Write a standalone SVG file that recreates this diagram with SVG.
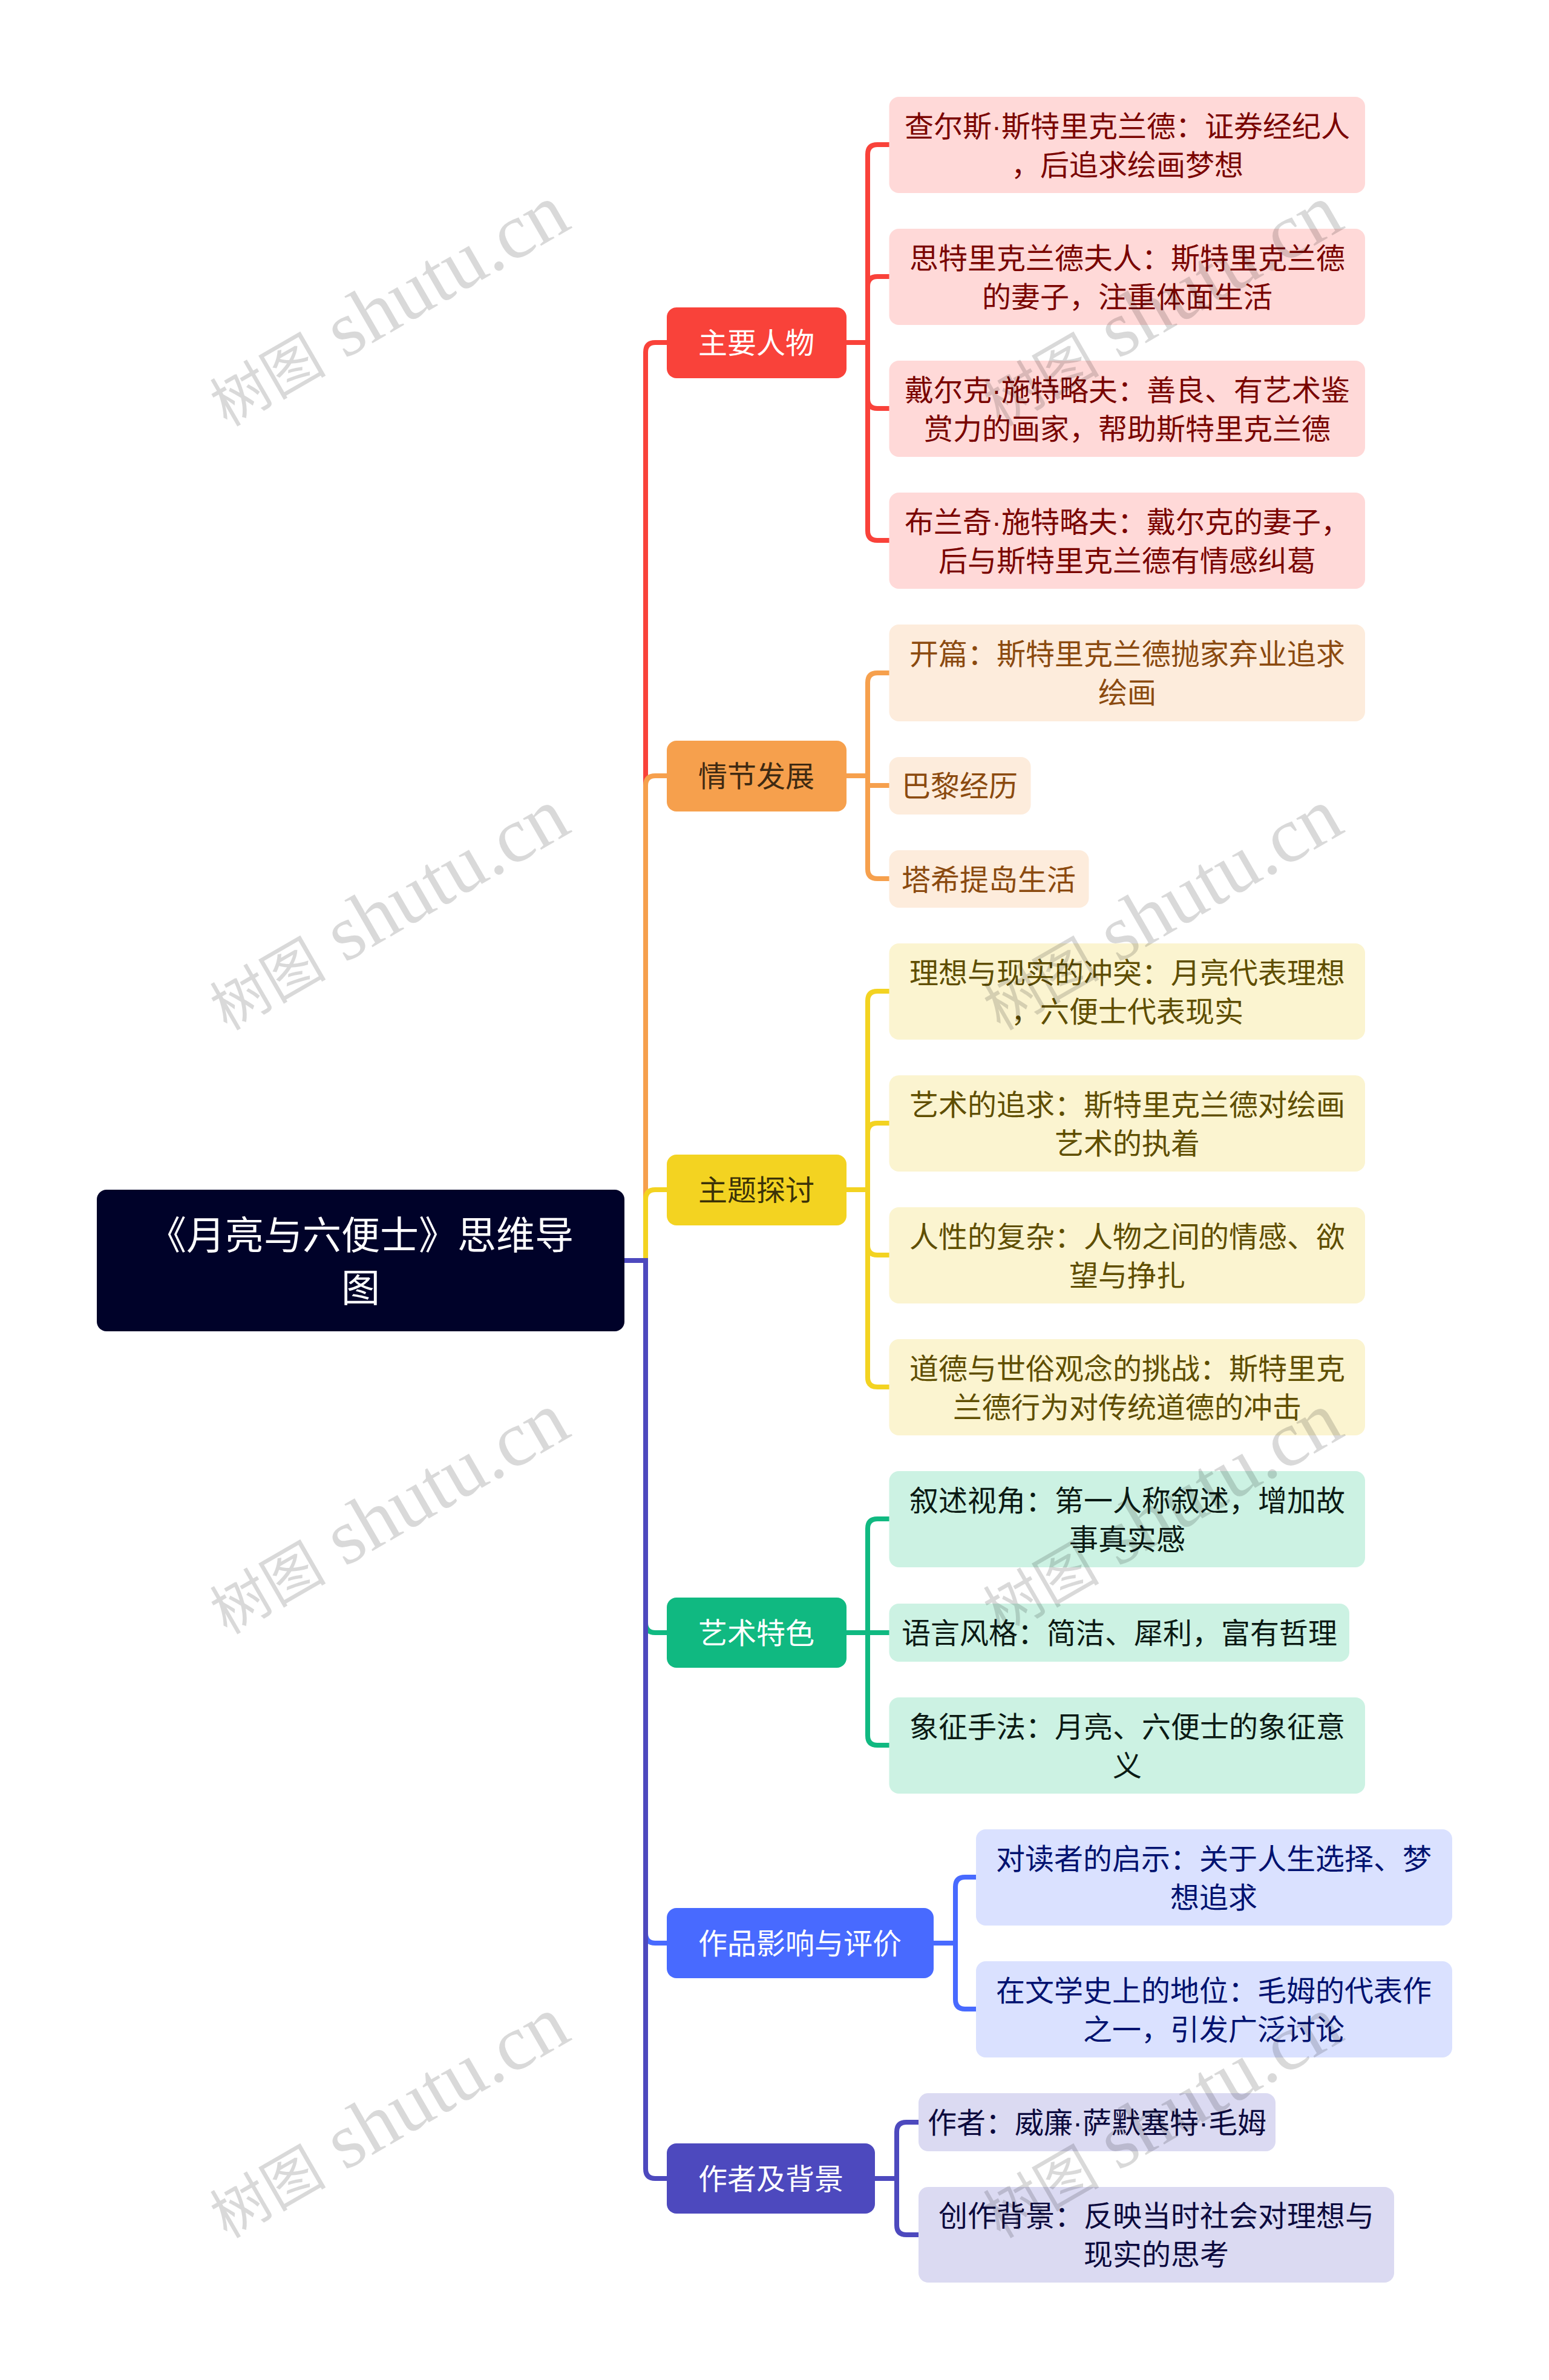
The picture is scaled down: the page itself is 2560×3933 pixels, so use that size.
<svg xmlns="http://www.w3.org/2000/svg" width="2560" height="3933" viewBox="0 0 2560 3933">
<style>
text{font-family:"Liberation Sans","Noto Sans CJK SC",sans-serif;text-anchor:middle}
.c{fill:none;stroke-width:8}
.t{font-size:48px}
.r{font-size:64px;fill:#fff}
.w{fill:#fff}
.red{fill:#ffd9d8}.redt{fill:#7a0400}
.org{fill:#fdecdc}.orgt{fill:#8b4a0f}
.yel{fill:#fbf4d0}.yelt{fill:#5f4e00}
.grn{fill:#ccf2e3}.grnt{fill:#0b1a14}
.blu{fill:#dae1ff}.blut{fill:#001270}
.pur{fill:#dbdaf2}.purt{fill:#0c0a3e}
.wm{fill:#000;fill-opacity:.15;font-size:130px;font-family:"Liberation Serif","Noto Sans CJK SC",serif;text-anchor:start}
.wc{font-size:96px;font-family:"Noto Sans CJK SC",serif}
</style>
<rect width="2560" height="3933" fill="#fff"/>
<g id="connectors">
<g class="c" stroke="#f9423a">
<path d="M1032 2083H1067V582Q1067 566 1083 566H1102"/>
<path d="M1399 566H1434V255Q1434 239 1450 239H1470"/>
<path d="M1399 566H1434V473Q1434 457 1450 457H1470"/>
<path d="M1399 566H1434V659Q1434 675 1450 675H1470"/>
<path d="M1399 566H1434V877Q1434 893 1450 893H1470"/>
</g>
<g class="c" stroke="#f6a04d">
<path d="M1032 2083H1067V1298Q1067 1282 1083 1282H1102"/>
<path d="M1399 1282H1434V1128Q1434 1112 1450 1112H1470"/>
<path d="M1399 1282H1434V1298H1470"/>
<path d="M1399 1282H1434V1436Q1434 1452 1450 1452H1470"/>
</g>
<g class="c" stroke="#f3d321">
<path d="M1032 2083H1067V1982Q1067 1966 1083 1966H1102"/>
<path d="M1399 1966H1434V1654Q1434 1638 1450 1638H1470"/>
<path d="M1399 1966H1434V1872Q1434 1856 1450 1856H1470"/>
<path d="M1399 1966H1434V2058Q1434 2074 1450 2074H1470"/>
<path d="M1399 1966H1434V2276Q1434 2292 1450 2292H1470"/>
</g>
<g class="c" stroke="#10b981">
<path d="M1032 2083H1067V2682Q1067 2698 1083 2698H1102"/>
<path d="M1399 2698H1434V2526Q1434 2510 1450 2510H1470"/>
<path d="M1399 2698H1470"/>
<path d="M1399 2698H1434V2868Q1434 2884 1450 2884H1470"/>
</g>
<g class="c" stroke="#486aff">
<path d="M1032 2083H1067V3195Q1067 3211 1083 3211H1102"/>
<path d="M1543 3211H1579V3118Q1579 3102 1595 3102H1613"/>
<path d="M1543 3211H1579V3304Q1579 3320 1595 3320H1613"/>
</g>
<g class="c" stroke="#4d49be">
<path d="M1032 2083H1067V3584Q1067 3600 1083 3600H1102"/>
<path d="M1446 3600H1482V3523Q1482 3507 1498 3507H1518"/>
<path d="M1446 3600H1482V3677Q1482 3693 1498 3693H1518"/>
</g>
</g>
<g id="root"><rect x="160" y="1966" width="872" height="234" rx="16" fill="#000229"/><text class="r" x="596" y="2064">《月亮与六便士》思维导</text><text class="r" x="596" y="2151">图</text></g>
<g id="n1"><rect x="1102" y="508" width="297" height="117" rx="16" fill="#f9423a"/><text class="t w" x="1250" y="584">主要人物</text></g>
<g id="n11"><rect class="red" x="1469.500" y="160" width="786.500" height="159" rx="16"/><text class="t redt" x="1863" y="226">查尔斯·斯特里克兰德：证券经纪人</text><text class="t redt" x="1863" y="290">，后追求绘画梦想</text></g>
<g id="n12"><rect class="red" x="1469.500" y="378" width="786.500" height="159" rx="16"/><text class="t redt" x="1863" y="444">思特里克兰德夫人：斯特里克兰德</text><text class="t redt" x="1863" y="508">的妻子，注重体面生活</text></g>
<g id="n13"><rect class="red" x="1469.500" y="596" width="786.500" height="159" rx="16"/><text class="t redt" x="1863" y="662">戴尔克·施特略夫：善良、有艺术鉴</text><text class="t redt" x="1863" y="726">赏力的画家，帮助斯特里克兰德</text></g>
<g id="n14"><rect class="red" x="1469.500" y="814" width="786.500" height="159" rx="16"/><text class="t redt" x="1863" y="880">布兰奇·施特略夫：戴尔克的妻子，</text><text class="t redt" x="1863" y="944">后与斯特里克兰德有情感纠葛</text></g>
<g id="n2"><rect x="1102" y="1224" width="297" height="117" rx="16" fill="#f6a04d"/><text class="t" fill="#3f2a12" x="1250" y="1300">情节发展</text></g>
<g id="n21"><rect class="org" x="1469.500" y="1032" width="786.500" height="160" rx="16"/><text class="t orgt" x="1863" y="1098">开篇：斯特里克兰德抛家弃业追求</text><text class="t orgt" x="1863" y="1162">绘画</text></g>
<g id="n22"><rect class="org" x="1469.500" y="1251" width="234" height="95" rx="16"/><text class="t orgt" x="1586" y="1316">巴黎经历</text></g>
<g id="n23"><rect class="org" x="1469.500" y="1405" width="330" height="95" rx="16"/><text class="t orgt" x="1634" y="1471">塔希提岛生活</text></g>
<g id="n3"><rect x="1102" y="1908" width="297" height="117" rx="16" fill="#f3d321"/><text class="t" fill="#3b3208" x="1250" y="1984">主题探讨</text></g>
<g id="n31"><rect class="yel" x="1469.500" y="1559" width="786.500" height="159" rx="16"/><text class="t yelt" x="1863" y="1625">理想与现实的冲突：月亮代表理想</text><text class="t yelt" x="1863" y="1689">，六便士代表现实</text></g>
<g id="n32"><rect class="yel" x="1469.500" y="1777" width="786.500" height="159" rx="16"/><text class="t yelt" x="1863" y="1843">艺术的追求：斯特里克兰德对绘画</text><text class="t yelt" x="1863" y="1907">艺术的执着</text></g>
<g id="n33"><rect class="yel" x="1469.500" y="1995" width="786.500" height="159" rx="16"/><text class="t yelt" x="1863" y="2061">人性的复杂：人物之间的情感、欲</text><text class="t yelt" x="1863" y="2125">望与挣扎</text></g>
<g id="n34"><rect class="yel" x="1469.500" y="2213" width="786.500" height="159" rx="16"/><text class="t yelt" x="1863" y="2279">道德与世俗观念的挑战：斯特里克</text><text class="t yelt" x="1863" y="2343">兰德行为对传统道德的冲击</text></g>
<g id="n4"><rect x="1102" y="2640" width="297" height="116" rx="16" fill="#10b981"/><text class="t w" x="1250" y="2716">艺术特色</text></g>
<g id="n41"><rect class="grn" x="1469.500" y="2431" width="786.500" height="159" rx="16"/><text class="t grnt" x="1863" y="2497">叙述视角：第一人称叙述，增加故</text><text class="t grnt" x="1863" y="2561">事真实感</text></g>
<g id="n42"><rect class="grn" x="1469.500" y="2650" width="760.500" height="96" rx="16"/><text class="t grnt" x="1850" y="2716">语言风格：简洁、犀利，富有哲理</text></g>
<g id="n43"><rect class="grn" x="1469.500" y="2805" width="786.500" height="159" rx="16"/><text class="t grnt" x="1863" y="2871">象征手法：月亮、六便士的象征意</text><text class="t grnt" x="1863" y="2935">义</text></g>
<g id="n5"><rect x="1102" y="3153" width="441" height="116" rx="16" fill="#486aff"/><text class="t w" x="1322" y="3229">作品影响与评价</text></g>
<g id="n51"><rect class="blu" x="1613" y="3023" width="787" height="159" rx="16"/><text class="t blut" x="2006" y="3089">对读者的启示：关于人生选择、梦</text><text class="t blut" x="2006" y="3153">想追求</text></g>
<g id="n52"><rect class="blu" x="1613" y="3241" width="787" height="159" rx="16"/><text class="t blut" x="2006" y="3307">在文学史上的地位：毛姆的代表作</text><text class="t blut" x="2006" y="3371">之一，引发广泛讨论</text></g>
<g id="n6"><rect x="1102" y="3542" width="344" height="116" rx="16" fill="#4d49be"/><text class="t w" x="1274" y="3618">作者及背景</text></g>
<g id="n61"><rect class="pur" x="1518" y="3459" width="590" height="96" rx="16"/><text class="t purt" x="1813" y="3525">作者：威廉·萨默塞特·毛姆</text></g>
<g id="n62"><rect class="pur" x="1518" y="3614" width="786" height="158" rx="16"/><text class="t purt" x="1911" y="3679">创作背景：反映当时社会对理想与</text><text class="t purt" x="1911" y="3743">现实的思考</text></g>
<g id="watermarks">
<text class="wm" transform="translate(375 706) rotate(-30)"><tspan class="wc">树图</tspan> shutu.cn</text>
<text class="wm" transform="translate(1653 706) rotate(-30)"><tspan class="wc">树图</tspan> shutu.cn</text>
<text class="wm" transform="translate(375 1704) rotate(-30)"><tspan class="wc">树图</tspan> shutu.cn</text>
<text class="wm" transform="translate(1653 1704) rotate(-30)"><tspan class="wc">树图</tspan> shutu.cn</text>
<text class="wm" transform="translate(375 2702) rotate(-30)"><tspan class="wc">树图</tspan> shutu.cn</text>
<text class="wm" transform="translate(1653 2702) rotate(-30)"><tspan class="wc">树图</tspan> shutu.cn</text>
<text class="wm" transform="translate(375 3700) rotate(-30)"><tspan class="wc">树图</tspan> shutu.cn</text>
<text class="wm" transform="translate(1653 3700) rotate(-30)"><tspan class="wc">树图</tspan> shutu.cn</text>
</g>
</svg>
